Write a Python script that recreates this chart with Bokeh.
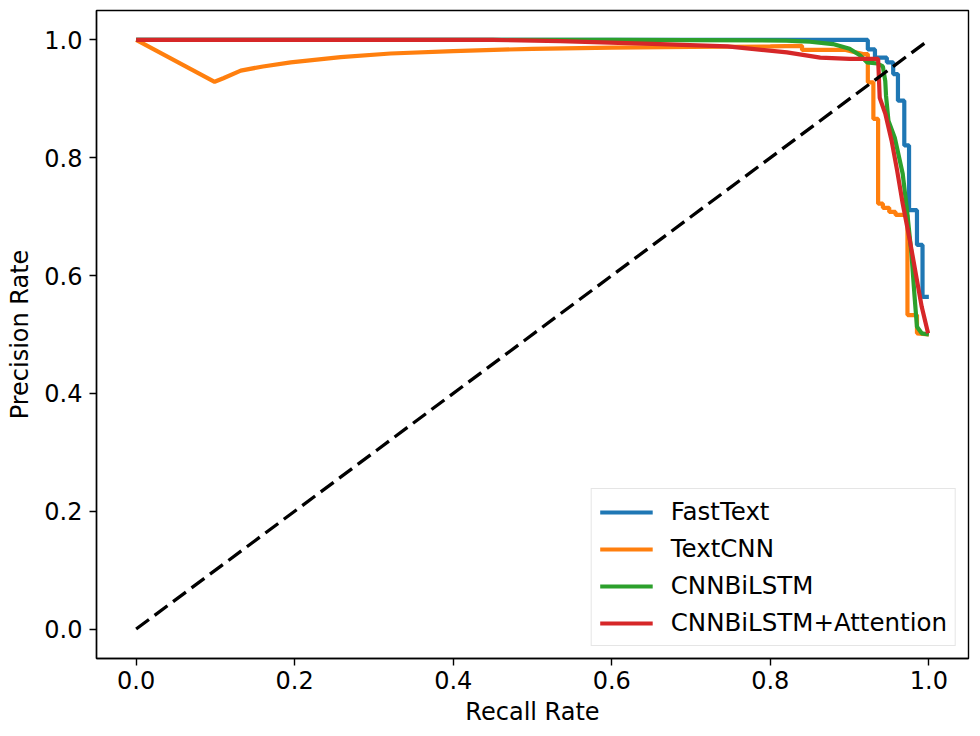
from bokeh.plotting import figure
from bokeh.models import Range1d, FixedTicker, Legend, LegendItem
from bokeh.embed import file_html
from bokeh.resources import INLINE

# ---- data ----
tick_values = [0.0, 0.2, 0.4, 0.6, 0.8, 1.0]
tick_labels = ["0.0", "0.2", "0.4", "0.6", "0.8", "1.0"]

series_names = ["FastText", "TextCNN", "CNNBiLSTM", "CNNBiLSTM+Attention"]
series_colors = ["#1f77b4", "#ff7f0e", "#2ca02c", "#d62728"]

fasttext_recall = [0.0, 0.923, 0.923, 0.932, 0.932, 0.947, 0.947, 0.955, 0.955, 0.961,
                   0.961, 0.969, 0.969, 0.975, 0.975, 0.985, 0.985, 0.992, 0.992, 1.0]
fasttext_precision = [1.0, 1.0, 0.984, 0.984, 0.970, 0.970, 0.962, 0.962, 0.942, 0.942,
                      0.897, 0.897, 0.821, 0.821, 0.711, 0.711, 0.652, 0.652, 0.564, 0.564]

textcnn_recall = [0.0, 0.099, 0.11, 0.132, 0.16, 0.195, 0.258, 0.321, 0.4, 0.5, 0.6, 0.7,
                  0.80, 0.840, 0.840, 0.895, 0.917, 0.923, 0.923, 0.930, 0.930, 0.936,
                  0.936, 0.942, 0.942, 0.950, 0.950, 0.958, 0.958, 0.973, 0.973, 0.985,
                  0.985, 1.0]
textcnn_precision = [1.0, 0.929, 0.935, 0.948, 0.955, 0.962, 0.971, 0.977, 0.981, 0.985,
                     0.987, 0.988, 0.989, 0.990, 0.983, 0.983, 0.976, 0.976, 0.928, 0.928,
                     0.866, 0.866, 0.722, 0.722, 0.715, 0.715, 0.708, 0.708, 0.703, 0.703,
                     0.533, 0.533, 0.502, 0.500]

cnnbilstm_recall = [0.0, 0.6, 0.82, 0.85, 0.879, 0.90, 0.913, 0.922, 0.935, 0.942,
                    0.945, 0.946, 0.949, 0.957, 0.967, 0.972, 0.978, 0.982, 0.985,
                    0.991, 1.0]
cnnbilstm_precision = [1.0, 1.0, 0.999, 0.997, 0.993, 0.985, 0.974, 0.962, 0.960, 0.955,
                       0.930, 0.905, 0.863, 0.834, 0.773, 0.716, 0.638, 0.564, 0.513,
                       0.502, 0.500]

attention_recall = [0.0, 0.45, 0.535, 0.661, 0.746, 0.821, 0.863, 0.90, 0.936, 0.938,
                    0.945, 0.953, 0.960, 0.967, 0.976, 0.985, 0.991, 0.999]
attention_precision = [1.0, 1.0, 0.998, 0.993, 0.989, 0.979, 0.970, 0.968, 0.968, 0.902,
                       0.875, 0.829, 0.778, 0.722, 0.660, 0.592, 0.547, 0.502]

diag_x = [0.0, 1.0]
diag_y = [0.0, 1.0]

FONT = "DejaVu Sans"

p = figure(width=972, height=728, output_backend="svg", toolbar_location=None,
           x_range=Range1d(-0.05, 1.05), y_range=Range1d(-0.05, 1.05),
           min_border_left=96, min_border_right=4, min_border_top=10,
           min_border_bottom=68)

p.grid.visible = False
p.outline_line_color = "black"
p.outline_line_width = 1.4
p.background_fill_color = "white"
p.border_fill_color = "white"

for ax in (p.xaxis[0], p.yaxis[0]):
    ax.ticker = FixedTicker(ticks=tick_values)
    ax.major_label_overrides = {v: l for v, l in zip(tick_values, tick_labels)}
    ax.major_label_text_font = FONT
    ax.major_label_text_font_size = "24px"
    ax.major_label_text_color = "black"
    ax.axis_label_text_font = FONT
    ax.axis_label_text_font_size = "24px"
    ax.axis_label_text_font_style = "normal"
    ax.axis_label_text_color = "black"
    ax.axis_line_color = "black"
    ax.axis_line_width = 1.4
    ax.major_tick_line_color = "black"
    ax.major_tick_line_width = 1.4
    ax.major_tick_out = 7
    ax.major_tick_in = 0
    ax.minor_tick_out = 0
    ax.minor_tick_in = 0

p.xaxis.axis_label = "Recall Rate"
p.yaxis.axis_label = "Precision Rate"
p.xaxis.major_label_standoff = 5
p.yaxis.major_label_standoff = 7
p.xaxis.axis_label_standoff = 6
p.yaxis.axis_label_standoff = 7

xs = [fasttext_recall, textcnn_recall, cnnbilstm_recall, attention_recall]
ys = [fasttext_precision, textcnn_precision, cnnbilstm_precision, attention_precision]

items = []
for name, color, x, y in zip(series_names, series_colors, xs, ys):
    r = p.line(x, y, line_color=color, line_width=4.2)
    items.append(LegendItem(label=name, renderers=[r]))

p.line(diag_x, diag_y, line_color="black", line_width=3.3, line_dash="16 7")

legend = Legend(items=items, location="bottom_right")
legend.label_text_font = FONT
legend.label_text_font_size = "24.5px"
legend.label_text_color = "black"
legend.glyph_width = 53
legend.glyph_height = 28
legend.label_height = 28
legend.label_standoff = 18
legend.padding = 8
legend.spacing = 8
legend.margin = 12
legend.border_line_color = "#cccccc"
legend.border_line_width = 1.2
legend.background_fill_alpha = 0.8
p.add_layout(legend)

open("out.html", "w").write(file_html(p, INLINE))
